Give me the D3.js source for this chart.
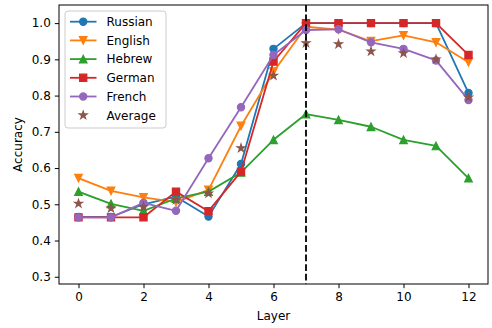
<!DOCTYPE html>
<html>
<head>
<meta charset="utf-8">
<script src="https://cdn.jsdelivr.net/npm/d3@7"></script>
<style>
  html, body { margin: 0; padding: 0; background: #fff; }
  svg { display: block; font-family: "DejaVu Sans", sans-serif; }
</style>
</head>
<body>
<svg id="chart" width="492" height="328"></svg>
<script>
// Probing accuracy per layer for each language
const layers = [0, 1, 2, 3, 4, 5, 6, 7, 8, 9, 10, 11, 12];
const russian = [0.465, 0.465, 0.500, 0.521, 0.466, 0.611, 0.929, 1.000, 1.000, 1.000, 1.000, 1.000, 0.807];
const english = [0.572, 0.537, 0.519, 0.506, 0.540, 0.716, 0.866, 0.990, 0.982, 0.950, 0.966, 0.947, 0.892];
const hebrew  = [0.535, 0.501, 0.482, 0.516, 0.535, 0.588, 0.678, 0.749, 0.733, 0.714, 0.678, 0.661, 0.572];
const german  = [0.464, 0.464, 0.464, 0.535, 0.481, 0.590, 0.894, 1.000, 1.000, 1.000, 1.000, 1.000, 0.912];
const french  = [0.464, 0.464, 0.504, 0.482, 0.627, 0.768, 0.912, 0.981, 0.983, 0.947, 0.929, 0.897, 0.788];
const average = [0.502, 0.489, 0.493, 0.512, 0.530, 0.655, 0.855, 0.945, 0.942, 0.922, 0.917, 0.900, 0.795];

const seriesNames = ["Russian", "English", "Hebrew", "German", "French", "Average"];
const xTicks = [0, 2, 4, 6, 8, 10, 12];
const yTicks = [0.3, 0.4, 0.5, 0.6, 0.7, 0.8, 0.9, 1.0];
const dividerLayer = 7;

const series = [
  { name: seriesNames[0], values: russian, color: "#1f77b4", marker: "circle", line: true },
  { name: seriesNames[1], values: english, color: "#ff7f0e", marker: "tridown", line: true },
  { name: seriesNames[2], values: hebrew,  color: "#2ca02c", marker: "triup", line: true },
  { name: seriesNames[3], values: german,  color: "#d62728", marker: "square", line: true },
  { name: seriesNames[4], values: french,  color: "#9467bd", marker: "circle", line: true },
  { name: seriesNames[5], values: average, color: "#8c564b", marker: "star", line: false }
];

const svg = d3.select("#chart");
const plot = { left: 59, right: 488, top: 5, bottom: 284 };

const x = d3.scaleLinear().domain([-0.6, 12.6]).range([plot.left, plot.right]);
const y = d3.scaleLinear().domain([0.28, 1.05]).range([plot.bottom, plot.top]);

// marker outlines centred at the origin; s is the marker size in px
function markerPath(kind, s) {
  const h = s / 2;
  if (kind === "circle") return `M${h},0A${h},${h},0,1,1,${-h},0A${h},${h},0,1,1,${h},0Z`;
  if (kind === "square") return `M${-h},${-h}L${h},${-h}L${h},${h}L${-h},${h}Z`;
  if (kind === "triup") return `M0,${-h}L${h},${h}L${-h},${h}Z`;
  if (kind === "tridown") return `M0,${h}L${h},${-h}L${-h},${-h}Z`;
  // five-pointed star
  const pts = [];
  for (let i = 0; i < 10; i++) {
    const r = i % 2 === 0 ? h : h * 0.381966;
    const a = -Math.PI / 2 + i * Math.PI / 5;
    pts.push([r * Math.cos(a), r * Math.sin(a)]);
  }
  return "M" + pts.map(p => p[0].toFixed(2) + "," + p[1].toFixed(2)).join("L") + "Z";
}
const markerSize = { circle: 7.2, square: 7.2, star: 8.2, triup: 7.6, tridown: 7.6 };
const shape = kind => markerPath(kind, markerSize[kind]);

// clip to the axes area
svg.append("defs").append("clipPath").attr("id", "clip")
  .append("rect").attr("x", plot.left).attr("y", plot.top)
  .attr("width", plot.right - plot.left).attr("height", plot.bottom - plot.top);

const g = svg.append("g").attr("clip-path", "url(#clip)");

// series lines and markers
const lineGen = d3.line().x((d, i) => x(layers[i])).y(d => y(d));
series.forEach(s => {
  const sg = g.append("g");
  if (s.line) {
    sg.append("path").attr("d", lineGen(s.values))
      .attr("fill", "none").attr("stroke", s.color)
      .attr("stroke-width", 1.8).attr("stroke-linejoin", "round").attr("stroke-linecap", "square");
  }
  sg.selectAll("path.m").data(s.values).enter().append("path")
    .attr("class", "m")
    .attr("d", shape(s.marker))
    .attr("transform", (d, i) => `translate(${x(layers[i])},${y(d)})`)
    .attr("fill", s.color).attr("stroke", s.color).attr("stroke-width", 1.2);
});

// vertical divider at the chosen layer
svg.append("line")
  .attr("x1", x(dividerLayer)).attr("x2", x(dividerLayer))
  .attr("y1", plot.top).attr("y2", plot.bottom)
  .attr("stroke", "#000").attr("stroke-width", 1.8)
  .attr("stroke-dasharray", "6.7,2.9");

// axes
const xAxis = d3.axisBottom(x).tickValues(xTicks).tickFormat(d3.format("d")).tickSize(4.2).tickPadding(4);
const yAxis = d3.axisLeft(y).tickValues(yTicks).tickFormat(d3.format(".1f")).tickSize(4.2).tickPadding(4);

const gx = svg.append("g").attr("transform", `translate(0,${plot.bottom})`).call(xAxis);
const gy = svg.append("g").attr("transform", `translate(${plot.left},0)`).call(yAxis);
[gx, gy].forEach(a => {
  a.select(".domain").remove();
  a.selectAll(".tick line").attr("stroke", "#000").attr("stroke-width", 1);
  a.selectAll(".tick text").attr("fill", "#000").attr("font-size", 12)
    .attr("font-family", "DejaVu Sans, sans-serif");
});

// frame
svg.append("rect")
  .attr("x", plot.left).attr("y", plot.top)
  .attr("width", plot.right - plot.left).attr("height", plot.bottom - plot.top)
  .attr("fill", "none").attr("stroke", "#000").attr("stroke-width", 1);

// axis titles
svg.append("text").attr("x", (plot.left + plot.right) / 2).attr("y", 320)
  .attr("text-anchor", "middle").attr("font-size", 12).attr("fill", "#000").text("Layer");
svg.append("text")
  .attr("transform", `translate(22,${(plot.top + plot.bottom) / 2}) rotate(-90)`)
  .attr("text-anchor", "middle").attr("font-size", 12).attr("fill", "#000").text("Accuracy");

// legend
const lg = svg.append("g").attr("transform", "translate(65,11)");
lg.append("rect").attr("x", 0).attr("y", 0).attr("width", 101).attr("height", 117)
  .attr("rx", 3).attr("fill", "#fff").attr("fill-opacity", 0.8)
  .attr("stroke", "#cccccc").attr("stroke-width", 1);
series.forEach((s, i) => {
  const yy = 10.7 + i * 18.7;
  const row = lg.append("g").attr("transform", `translate(0,${yy})`);
  if (s.line) {
    row.append("line").attr("x1", 5).attr("x2", 31.5).attr("y1", 0).attr("y2", 0)
      .attr("stroke", s.color).attr("stroke-width", 1.8);
  }
  row.append("path").attr("d", shape(s.marker))
    .attr("transform", "translate(18.2,0)")
    .attr("fill", s.color).attr("stroke", s.color).attr("stroke-width", 1.2);
  row.append("text").attr("x", 41.5).attr("y", 4.3)
    .attr("font-size", 12).attr("fill", "#000").text(s.name);
});
</script>
</body>
</html>
